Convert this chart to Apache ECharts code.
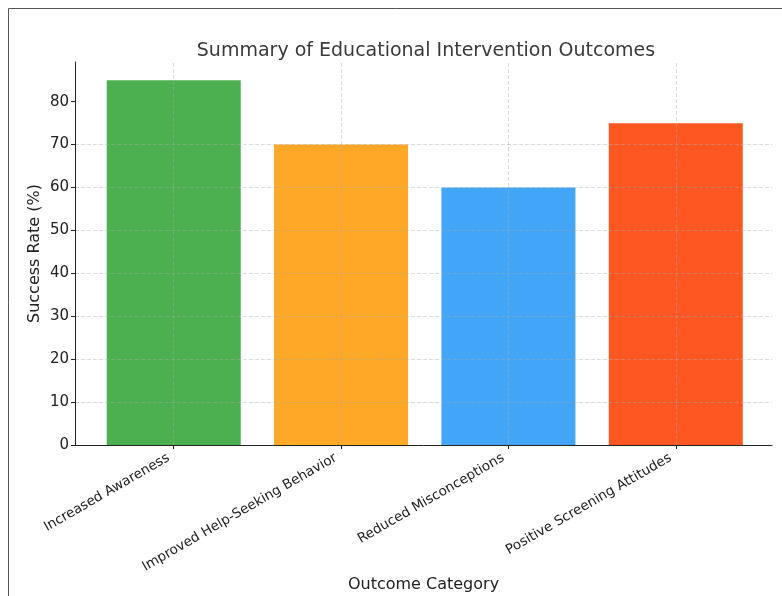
<!DOCTYPE html>
<html>
<head>
<meta charset="utf-8">
<script src="https://cdn.jsdelivr.net/npm/echarts@6/dist/echarts.min.js"></script>
<style>html,body{margin:0;padding:0;background:#fff}#c{width:782px;height:596px}</style>
</head>
<body>
<div id="c"></div>
<script>
const categories = ["Increased Awareness", "Improved Help-Seeking Behavior", "Reduced Misconceptions", "Positive Screening Attitudes"];
const values = [85, 70, 60, 75];
const colors = ["#4CAF50", "#FFA726", "#42A5F5", "#FF5722"];
const yTicks = [0, 10, 20, 30, 40, 50, 60, 70, 80];

const idx = categories.map((_, i) => i);
const FONT = "DejaVu Sans";
const chart = echarts.init(document.getElementById('c'), null, {renderer: 'canvas'});
chart.setOption({
  animation: false,
  textStyle: {fontFamily: FONT},
  title: {
    text: "Summary of Educational Intervention Outcomes",
    left: 421, top: 37, textAlign: 'center',
    textStyle: {fontFamily: FONT, fontSize: 19, fontWeight: 'normal', color: '#3a3a3a'}
  },
  graphic: [
    {type: 'polyline', shape: {points: [[8.5, 596], [8.5, 8.5], [782, 8.5]]}, style: {stroke: '#555', lineWidth: 1, fill: null}, silent: true}
  ],
  grid: {left: 75, right: 10, top: 62, bottom: 151, containLabel: false, outerBoundsMode: 'none'},
  xAxis: {
    type: 'value', min: -0.59, max: 3.575,
    name: "Outcome Category", nameLocation: 'middle', nameGap: 132, nameMoveOverlap: false,
    nameTextStyle: {fontFamily: FONT, fontSize: 16, color: '#222'},
    axisLine: {show: true, onZero: false, lineStyle: {color: '#222', width: 1}},
    axisTick: {show: true, customValues: idx, length: 4, lineStyle: {color: '#222'}},
    axisLabel: {
      customValues: idx, rotate: 30, margin: 9, padding: [0, 6, 0, 0],
      fontFamily: FONT, fontSize: 13.5, color: '#222',
      formatter: v => categories[Math.round(v)] || ''
    },
    splitLine: {show: false},
    z: 3
  },
  yAxis: {
    type: 'value', min: 0, max: 89.25, interval: 10,
    name: "Success Rate (%)", nameLocation: 'middle', nameGap: 32, nameMoveOverlap: false,
    nameTextStyle: {fontFamily: FONT, fontSize: 16, color: '#222'},
    axisLine: {show: true, onZero: false, lineStyle: {color: '#222', width: 1}},
    axisTick: {show: true, length: 4, customValues: yTicks, lineStyle: {color: '#222'}},
    axisLabel: {fontFamily: FONT, fontSize: 15, color: '#222', margin: 6,
      showMaxLabel: false},
    splitLine: {show: true, showMaxLine: false, lineStyle: {color: 'rgba(170,170,170,0.55)', type: [4, 2], width: 0.8}},
    z: 3
  },
  series: [{
    type: 'bar',
    barWidth: 134,
    data: values.map((v, i) => ({value: [i, v], itemStyle: {color: colors[i]}})),
    markLine: {
      silent: true, symbol: 'none', label: {show: false},
      lineStyle: {color: 'rgba(170,170,170,0.55)', type: [4, 2], width: 0.8},
      data: idx.map(i => ({xAxis: i}))
    }
  }]
});
</script>
</body>
</html>
